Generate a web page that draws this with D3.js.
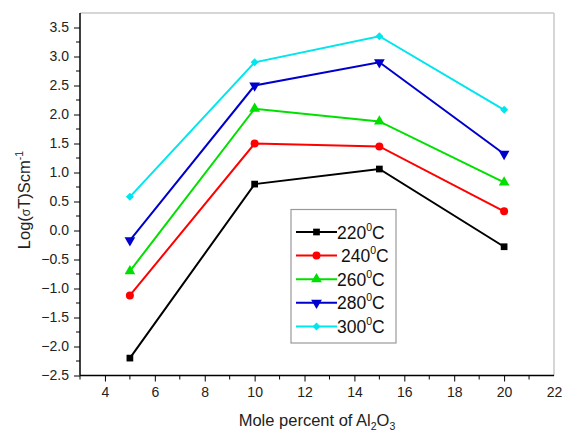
<!DOCTYPE html>
<html><head><meta charset="utf-8">
<script src="https://cdn.jsdelivr.net/npm/d3@7"></script>
<style>body{margin:0;background:#fff}svg{display:block;font-family:Arial,"Liberation Sans",sans-serif}</style>
</head><body><svg id="c" width="563" height="432"></svg>
<script>
const xValues = [5, 10, 15, 20];
const seriesNames = ["220", "240", "260", "280", "300"];
const s220 = [-2.2, 0.80, 1.06, -0.28];
const s240 = [-1.12, 1.50, 1.45, 0.33];
const s260 = [-0.70, 2.10, 1.88, 0.83];
const s280 = [-0.17, 2.50, 2.90, 1.32];
const s300 = [0.58, 2.90, 3.35, 2.08];
const yTicks = [-2.5,-2.0,-1.5,-1.0,-0.5,0.0,0.5,1.0,1.5,2.0,2.5,3.0,3.5];
const xTicks = [4,6,8,10,12,14,16,18,20,22];

const colors = ["#000000","#ff0000","#00e000","#0000cc","#00e5ee"];
const symbols = ["square","circle","tup","tdown","diamond"];
const series = [s220,s240,s260,s280,s300];

const svg = d3.select("#c");
const L=80, R=554, T=13, B=375.5;
const x = d3.scaleLinear().domain([3,22]).range([L,R]);
const y = d3.scaleLinear().domain([-2.5,3.75]).range([B,T]);

svg.append("line").attr("x1",L).attr("x2",R).attr("y1",T).attr("y2",T).attr("stroke","#c8c8c8").attr("stroke-width",1.5);
svg.append("line").attr("x1",R).attr("x2",R).attr("y1",T).attr("y2",B).attr("stroke","#c8c8c8").attr("stroke-width",1.5);

const xAxis = d3.axisBottom(x).tickValues(xTicks).tickFormat(d3.format("d")).tickSize(6).tickPadding(6);
const gx = svg.append("g").attr("transform",`translate(0,${B})`).call(xAxis);
gx.selectAll(".tick").filter(d=>d===22).select("line").remove();
const xMinor = d3.range(3,22,1).filter(v=>v%2!==0);
gx.selectAll(".minor").data(xMinor).enter().append("line").attr("x1",d=>x(d)).attr("x2",d=>x(d)).attr("y1",0).attr("y2",4).attr("stroke","#000");
const yAxis = d3.axisLeft(y).tickValues(yTicks).tickFormat(d3.format(".1f")).tickSize(6).tickPadding(5);
const gy = svg.append("g").attr("transform",`translate(${L},0)`).call(yAxis);
const yMinor = d3.range(-2.25,3.75,0.5);
gy.selectAll(".minor").data(yMinor).enter().append("line").attr("x1",0).attr("x2",-4).attr("y1",d=>y(d)).attr("y2",d=>y(d)).attr("stroke","#000");
[gx,gy].forEach(g=>{
  g.select(".domain").attr("stroke","#000").attr("stroke-width",1.5);
  g.selectAll(".tick line").attr("stroke","#000").attr("stroke-width",1);
  g.selectAll("text").attr("font-size",14).attr("fill","#222").attr("font-family","Arial, 'Liberation Sans', sans-serif");
});
gy.select(".domain").attr("d",`M-0,${B}V${T}`);
gx.select(".domain").attr("d",`M${L},0H${R}`);

function sym(s){
  if(s==="square") return d3.symbol().type(d3.symbolSquare).size(45)();
  if(s==="circle") return d3.symbol().type(d3.symbolCircle).size(50)();
  if(s==="tup"||s==="tdown") return d3.symbol().type(d3.symbolTriangle).size(50)();
  return d3.symbol().type(d3.symbolSquare).size(32)();
}
function rot(s){ return s==="tdown"?" rotate(180)":(s==="diamond"?" rotate(45)":""); }

const line = d3.line().x((d,i)=>x(xValues[i])).y(d=>y(d));
series.forEach((s,k)=>{
  svg.append("path").attr("d",line(s)).attr("fill","none").attr("stroke",colors[k]).attr("stroke-width",2);
  svg.selectAll(null).data(s).enter().append("path")
    .attr("d",sym(symbols[k]))
    .attr("transform",(d,i)=>`translate(${x(xValues[i])},${y(d)})${rot(symbols[k])}`)
    .attr("fill",colors[k]);
});

const lg = svg.append("g");
lg.append("rect").attr("x",291).attr("y",209.5).attr("width",105).attr("height",133.5).attr("fill","#fff").attr("stroke","#999").attr("stroke-width",1.2);
seriesNames.forEach((n,k)=>{
  const yy = 232 + k*23.6;
  lg.append("line").attr("x1",296).attr("x2",337).attr("y1",yy).attr("y2",yy).attr("stroke",colors[k]).attr("stroke-width",2);
  lg.append("path").attr("d",sym(symbols[k])).attr("transform",`translate(316.5,${yy})${rot(symbols[k])}`).attr("fill",colors[k]);
  const t = lg.append("text").attr("x",k===1?341:337).attr("y",yy+6.5).attr("font-size",17.5).attr("fill","#111");
  t.append("tspan").text(n);
  t.append("tspan").attr("font-size",10.5).attr("dy",-8).text("0");
  t.append("tspan").attr("dy",8).text("C");
});

const xt = svg.append("text").attr("x",317).attr("y",426).attr("text-anchor","middle").attr("font-size",16.5).attr("fill","#222");
xt.append("tspan").text("Mole percent of Al");
xt.append("tspan").attr("font-size",10.5).attr("dy",4).text("2");
xt.append("tspan").attr("dy",-4).text("O");
xt.append("tspan").attr("font-size",10.5).attr("dy",4).text("3");

const yt = svg.append("text").attr("transform","translate(30,200) rotate(-90)").attr("text-anchor","middle").attr("font-size",16.5).attr("fill","#222");
yt.append("tspan").text("Log(");
yt.append("tspan").attr("font-size",12).text("σ");
yt.append("tspan").text("T)Scm");
yt.append("tspan").attr("font-size",10.5).attr("dy",-7).text("-1");
</script></body></html>
